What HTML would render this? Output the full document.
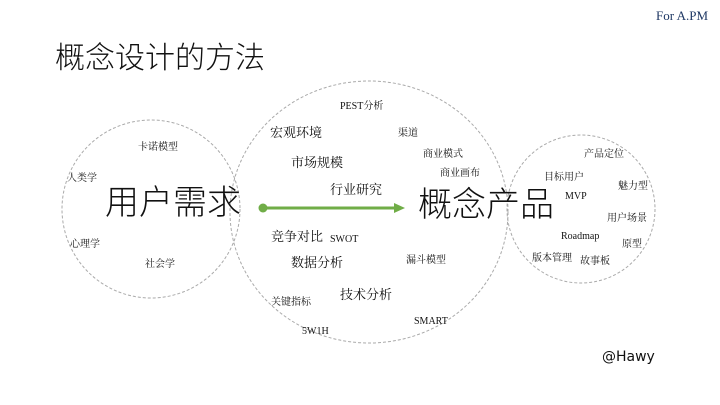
<!DOCTYPE html>
<html><head><meta charset="utf-8"><style>
body{margin:0;width:720px;height:405px;background:#fff;position:relative;overflow:hidden;font-family:"Liberation Serif","Noto Serif CJK SC",serif;color:#111}
.t{position:absolute;white-space:nowrap;line-height:1}
.s{font-size:10px}.m{font-size:13px}
</style></head><body>
<svg width="720" height="405" style="position:absolute;left:0;top:0">
<circle cx="151" cy="209" r="89" fill="none" stroke="#aaa" stroke-width="1" stroke-dasharray="3,2"/>
<ellipse cx="369" cy="212" rx="139" ry="131" fill="none" stroke="#aaa" stroke-width="1" stroke-dasharray="3,2"/>
<circle cx="581" cy="209" r="74" fill="none" stroke="#aaa" stroke-width="1" stroke-dasharray="3,2"/>
<line x1="262" y1="208" x2="396" y2="208" stroke="#70ad47" stroke-width="3"/>
<circle cx="263" cy="208" r="4.5" fill="#70ad47"/>
<polygon points="394,203 405,208 394,213" fill="#70ad47"/>
</svg>
<div class="t" style="left:656px;top:9px;font-size:13px;color:#1f3864">For A.PM</div>
<div class="t" style="left:55px;top:44px;font-size:30px;font-family:'Liberation Sans','Noto Sans CJK SC',sans-serif;font-weight:300">概念设计的方法</div>
<div class="t" style="left:105px;top:186px;font-size:34px;font-family:'Liberation Sans','Noto Sans CJK SC',sans-serif;font-weight:300">用户需求</div>
<div class="t" style="left:418px;top:188px;font-size:34px;font-family:'Liberation Sans','Noto Sans CJK SC',sans-serif;font-weight:300">概念产品</div>
<div class="t s" style="left:138px;top:143px">卡诺模型</div>
<div class="t s" style="left:67px;top:174px">人类学</div>
<div class="t s" style="left:70px;top:240px">心理学</div>
<div class="t s" style="left:145px;top:260px">社会学</div>
<div class="t s" style="left:340px;top:102px">PEST分析</div>
<div class="t m" style="left:270px;top:126px">宏观环境</div>
<div class="t s" style="left:398px;top:129px">渠道</div>
<div class="t s" style="left:423px;top:150px">商业模式</div>
<div class="t m" style="left:291px;top:156px">市场规模</div>
<div class="t s" style="left:440px;top:169px">商业画布</div>
<div class="t m" style="left:330px;top:183px">行业研究</div>
<div class="t m" style="left:271px;top:230px">竞争对比</div>
<div class="t s" style="left:330px;top:235px">SWOT</div>
<div class="t m" style="left:291px;top:256px">数据分析</div>
<div class="t s" style="left:406px;top:256px">漏斗模型</div>
<div class="t m" style="left:340px;top:288px">技术分析</div>
<div class="t s" style="left:271px;top:298px">关键指标</div>
<div class="t s" style="left:414px;top:317px">SMART</div>
<div class="t s" style="left:302px;top:327px">5W1H</div>
<div class="t s" style="left:584px;top:150px">产品定位</div>
<div class="t s" style="left:544px;top:173px">目标用户</div>
<div class="t s" style="left:618px;top:182px">魅力型</div>
<div class="t s" style="left:565px;top:192px">MVP</div>
<div class="t s" style="left:607px;top:214px">用户场景</div>
<div class="t s" style="left:561px;top:232px">Roadmap</div>
<div class="t s" style="left:622px;top:240px">原型</div>
<div class="t s" style="left:532px;top:254px">版本管理</div>
<div class="t s" style="left:580px;top:257px">故事板</div>
<div class="t" style="left:602px;top:350px;font-size:14px;font-family:'DejaVu Sans',sans-serif">@Hawy</div>
</body></html>
